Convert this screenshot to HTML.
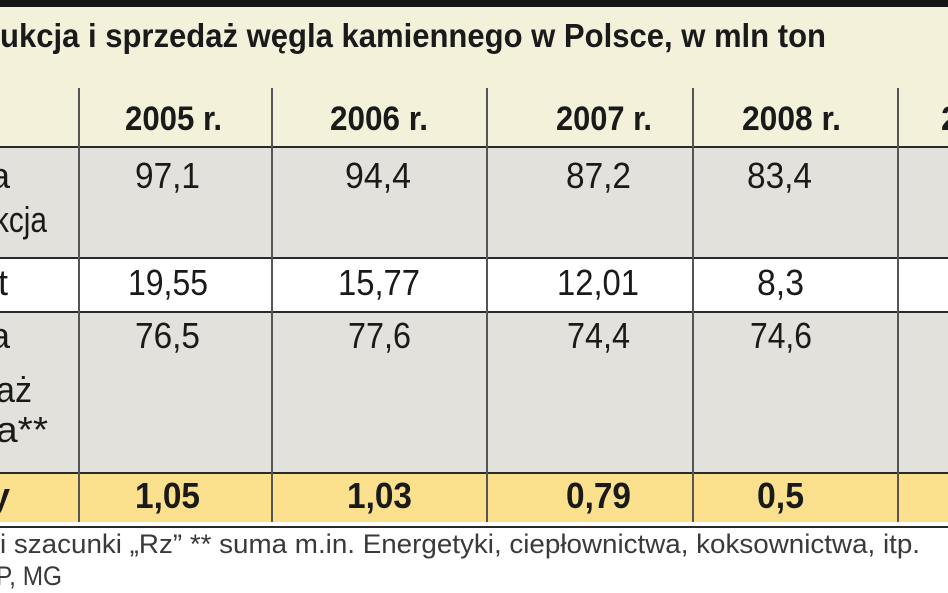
<!DOCTYPE html>
<html><head><meta charset="utf-8"><style>html,body{margin:0;padding:0;background:#fff;}svg{display:block}</style></head>
<body>
<svg width="948" height="593" viewBox="0 0 948 593" xmlns="http://www.w3.org/2000/svg" font-family="Liberation Sans, sans-serif">
<rect x="0" y="0" width="948" height="593" fill="#ffffff"/>
<rect x="0" y="0" width="948" height="7" fill="#141414"/>
<rect x="0" y="7" width="948" height="140" fill="#f3f1da"/>
<rect x="0" y="147" width="948" height="111" fill="#e2e1db"/>
<rect x="0" y="258" width="948" height="54" fill="#ffffff"/>
<rect x="0" y="312" width="948" height="161" fill="#e2e1db"/>
<rect x="0" y="473" width="948" height="49" fill="#fbe08e"/>
<g stroke="#2a2a2a" stroke-width="2">
<line x1="0" y1="147" x2="948" y2="147"/>
<line x1="0" y1="258" x2="948" y2="258"/>
<line x1="0" y1="312" x2="948" y2="312"/>
<line x1="0" y1="473" x2="948" y2="473"/>
<line x1="0" y1="527" x2="948" y2="527"/>
</g>
<g stroke="#555" stroke-width="2">
<line x1="79" y1="88" x2="79" y2="522"/>
<line x1="272" y1="88" x2="272" y2="522"/>
<line x1="487" y1="88" x2="487" y2="522"/>
<line x1="693" y1="88" x2="693" y2="522"/>
<line x1="898" y1="88" x2="898" y2="522"/>
</g>
<g fill="#1a1a1a">
<text x="0" y="47" font-size="33" font-weight="bold" textLength="826" lengthAdjust="spacingAndGlyphs">ukcja i sprzedaż węgla kamiennego w Polsce, w mln ton</text>
<g font-size="34" font-weight="bold">
<text x="125" y="130" textLength="97" lengthAdjust="spacingAndGlyphs">2005 r.</text>
<text x="330" y="130" textLength="98" lengthAdjust="spacingAndGlyphs">2006 r.</text>
<text x="556" y="130" textLength="96" lengthAdjust="spacingAndGlyphs">2007 r.</text>
<text x="742" y="130" textLength="99" lengthAdjust="spacingAndGlyphs">2008 r.</text>
<text x="941" y="130">2</text>
</g>
<g font-size="36">
<text x="135" y="188" textLength="65" lengthAdjust="spacingAndGlyphs">97,1</text>
<text x="345" y="188" textLength="66" lengthAdjust="spacingAndGlyphs">94,4</text>
<text x="566" y="188" textLength="65" lengthAdjust="spacingAndGlyphs">87,2</text>
<text x="747" y="188" textLength="65" lengthAdjust="spacingAndGlyphs">83,4</text>
<text x="-10" y="188">a</text>
<text x="-6" y="232" textLength="53" lengthAdjust="spacingAndGlyphs">kcja</text>
<text x="128" y="295" textLength="80" lengthAdjust="spacingAndGlyphs">19,55</text>
<text x="338" y="295" textLength="82" lengthAdjust="spacingAndGlyphs">15,77</text>
<text x="557" y="295" textLength="82" lengthAdjust="spacingAndGlyphs">12,01</text>
<text x="757" y="295" textLength="47" lengthAdjust="spacingAndGlyphs">8,3</text>
<text x="-2" y="295">t</text>
<text x="135" y="348" textLength="65" lengthAdjust="spacingAndGlyphs">76,5</text>
<text x="348" y="348" textLength="63" lengthAdjust="spacingAndGlyphs">77,6</text>
<text x="567" y="348" textLength="63" lengthAdjust="spacingAndGlyphs">74,4</text>
<text x="750" y="348" textLength="62" lengthAdjust="spacingAndGlyphs">74,6</text>
<text x="-10" y="348">a</text>
<text x="-4" y="402" textLength="36" lengthAdjust="spacingAndGlyphs">aż</text>
<text x="-4" y="442" textLength="52" lengthAdjust="spacingAndGlyphs">a**</text>
</g>
<g font-size="36" font-weight="bold">
<text x="135" y="508" textLength="65" lengthAdjust="spacingAndGlyphs">1,05</text>
<text x="347" y="508" textLength="65" lengthAdjust="spacingAndGlyphs">1,03</text>
<text x="566" y="508" textLength="65" lengthAdjust="spacingAndGlyphs">0,79</text>
<text x="757" y="508" textLength="47" lengthAdjust="spacingAndGlyphs">0,5</text>
<text x="-10" y="508">y</text>
</g>
</g>
<g fill="#3a3a3a" font-size="27">
<text x="0" y="553" textLength="920" lengthAdjust="spacingAndGlyphs">i szacunki „Rz”   ** suma m.in. Energetyki, ciepłownictwa, koksownictwa, itp.</text>
<text x="-4" y="585" textLength="66" lengthAdjust="spacingAndGlyphs">P, MG</text>
</g>
</svg>
</body></html>
